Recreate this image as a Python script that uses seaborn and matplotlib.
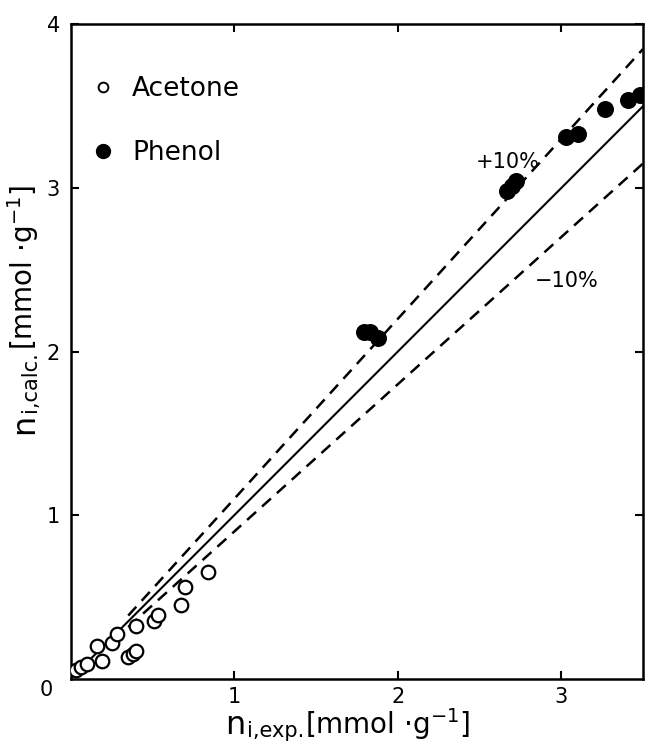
import numpy as np
import matplotlib
matplotlib.use("Agg")
import matplotlib.pyplot as plt
from matplotlib.lines import Line2D
import seaborn as sns

# Adsorbed amounts [mmol/g]: experimental vs. calculated
acetone_exp = [0.03, 0.06, 0.10, 0.16, 0.19, 0.25, 0.28, 0.35, 0.38, 0.40,
               0.40, 0.51, 0.53, 0.67, 0.70, 0.84]
acetone_calc = [0.05, 0.07, 0.09, 0.20, 0.11, 0.22, 0.27, 0.13, 0.15, 0.17,
                0.32, 0.35, 0.39, 0.45, 0.56, 0.65]
phenol_exp = [1.79, 1.83, 1.88, 2.67, 2.70, 2.72, 3.03, 3.10, 3.27, 3.41, 3.48]
phenol_calc = [2.12, 2.12, 2.08, 2.98, 3.01, 3.04, 3.31, 3.33, 3.48, 3.54, 3.57]

# Parity line and the +/-10 % deviation band
deviations = [0.10, 0.0, -0.10]
band_labels = ["+10%", "", "−10%"]
band_label_pos = [(2.67, 3.16), None, (3.03, 2.43)]

x_ticks = [1, 2, 3]
y_ticks = [1, 2, 3, 4]
x_max, y_max = 3.5, 4.0

sns.set_style("ticks")
plt.rcParams["font.family"] = ["DejaVu Sans"]
plt.rcParams["axes.linewidth"] = 1.8
for key in ("text.color", "axes.labelcolor", "xtick.color", "ytick.color",
            "axes.edgecolor"):
    plt.rcParams[key] = "black"

fig = plt.figure(figsize=(6.48, 7.53), dpi=100)
ax = fig.add_axes([0.1096, 0.0989, 0.8827, 0.8686])

# reference lines
for dev, lab, pos in zip(deviations, band_labels, band_label_pos):
    if dev == 0.0:
        xs = np.array([0.0, x_max])
        sns.lineplot(x=xs, y=xs * (1 + dev), ax=ax, color="black", lw=1.5,
                     linestyle="-", zorder=1)
    else:
        xs = np.array([0.35, x_max])
        sns.lineplot(x=xs, y=xs * (1 + dev), ax=ax, color="black", lw=1.8,
                     linestyle=(0, (4.8, 3.2)), zorder=1)
    if lab:
        ax.text(pos[0], pos[1], lab, fontsize=15, ha="center", va="center",
                color="black")

# data points
sns.scatterplot(x=acetone_exp, y=acetone_calc, ax=ax, marker="o", s=95,
                facecolor="white", edgecolor="black", linewidth=1.6, zorder=3)
sns.scatterplot(x=phenol_exp, y=phenol_calc, ax=ax, marker="o", s=150,
                color="black", edgecolor="black", linewidth=0, zorder=3)

ax.set_xlim(0, x_max)
ax.set_ylim(0, y_max)
ax.set_xticks(x_ticks)
ax.set_yticks(y_ticks)
ax.set_xticklabels([str(t) for t in x_ticks])
ax.set_yticklabels([str(t) for t in y_ticks])
ax.tick_params(direction="in", length=6, width=1.5, top=True, right=True,
               labelsize=15, colors="black")
ax.tick_params(axis="x", pad=6)
ax.tick_params(axis="y", pad=8)
for sp in ax.spines.values():
    sp.set_color("black")
    sp.set_linewidth(1.8)
ax.set_xlabel("")
ax.set_ylabel("")
ax.text(-0.15, -0.07, "0", fontsize=15, ha="center", va="center")

# legend
handles = [
    Line2D([], [], marker="o", ls="", mfc="white", mec="black", mew=1.4, ms=7),
    Line2D([], [], marker="o", ls="", mfc="black", mec="black", ms=10),
]
leg = ax.legend(handles, ["Acetone", "Phenol"], loc="upper left",
                bbox_to_anchor=(0.033, 0.921), frameon=False, fontsize=19,
                handlelength=1.0, handletextpad=0.6, labelspacing=1.45,
                borderpad=0, borderaxespad=0)
for t in leg.get_texts():
    t.set_color("black")

# x-axis label: n_{i,exp.}[mmol·g^-1]
xn = fig.text(225 / 648, 19 / 753, "n", fontsize=23, ha="left", va="baseline")
xs_ = ax.annotate("i,exp.", xy=(1, 16), xycoords=(xn, "figure pixels"),
                  xytext=(1, 0), textcoords="offset points",
                  ha="left", va="baseline", fontsize=15)
ax.annotate("[mmol ·g$^{-1}$]", xy=(1, 19), xycoords=(xs_, "figure pixels"),
            xytext=(1, 0), textcoords="offset points",
            ha="left", va="baseline", fontsize=20)

# y-axis label: n_{i,calc.}[mmol·g^-1]
yn = fig.text(33 / 648, (753 - 434) / 753, "n", fontsize=23, rotation=90,
              rotation_mode="anchor", ha="left", va="baseline")
ys_ = ax.annotate("i,calc.", xy=(36, 1), xycoords=("figure pixels", yn),
                  xytext=(0, 1), textcoords="offset points", rotation=90,
                  rotation_mode="anchor", ha="left", va="baseline", fontsize=15)
ax.annotate("[mmol ·g$^{-1}$]", xy=(33, 1), xycoords=("figure pixels", ys_),
            xytext=(0, 1), textcoords="offset points", rotation=90,
            rotation_mode="anchor", ha="left", va="baseline", fontsize=20)

fig.savefig("out.png", dpi=100, facecolor="white")
